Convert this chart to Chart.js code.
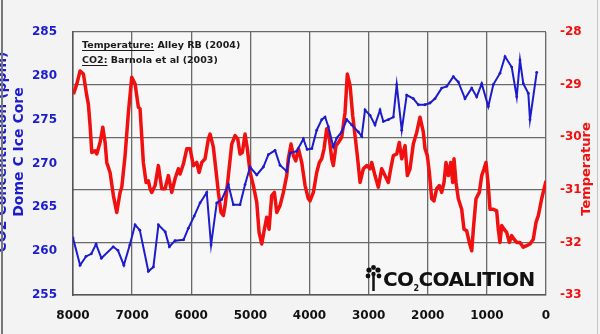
<!DOCTYPE html>
<html>
<head>
<meta charset="utf-8">
<script src="https://cdn.jsdelivr.net/npm/chart.js@4.4.1/dist/chart.umd.min.js"></script>
<style>
    html, body { margin: 0; padding: 0; background: #f3f3f3; }
    #wrap { width: 600px; height: 334px; }
</style>
</head>
<body>
<div id="wrap"><canvas id="chart" width="600" height="334"></canvas></div>
<script>
// CO2, Dome C ice core (ppm), years before present
const co2Years = [8000, 7880, 7780, 7690, 7610, 7520, 7320, 7240, 7140, 7040, 6950, 6870, 6725, 6640, 6555, 6440, 6370, 6275, 6130, 6050,
    5950, 5851, 5738, 5665, 5569, 5484, 5372, 5288, 5175, 5090, 5005, 4892, 4780, 4696, 4583, 4498, 4385, 4329, 4216, 4104,
    4040, 3960, 3878, 3793, 3737, 3681, 3597, 3540, 3455, 3370, 3286, 3174, 3117, 3061, 2976, 2892, 2807, 2751, 2667, 2582,
    2525, 2440, 2356, 2244, 2159, 2046, 1962, 1877, 1764, 1679, 1567, 1483, 1370, 1256, 1172, 1087, 976, 891, 778, 693,
    580, 495, 440, 384, 299, 271, 157];
const co2Values = [261.5, 258.4, 259.4, 259.7, 260.8, 259.2, 260.5, 260.1, 258.4, 260.7, 263.0, 262.4, 257.7, 258.2, 263.0, 262.2, 260.5, 261.2, 261.3, 262.6,
    264.0, 265.5, 266.7, 260.7, 265.5, 265.9, 267.6, 265.3, 265.3, 267.6, 269.6, 268.7, 269.6, 271.0, 271.5, 269.8, 269.1, 271.2, 271.4, 272.8,
    271.6, 271.7, 273.8, 275.0, 275.3, 274.2, 271.9, 272.9, 273.6, 275.0, 274.4, 273.6, 273.1, 276.1, 275.5, 274.4, 276.1, 274.8, 275.0, 275.3,
    279.0, 273.8, 277.8, 277.4, 276.7, 276.7, 276.9, 277.4, 278.6, 278.8, 279.9, 279.3, 277.4, 278.6, 277.6, 279.1, 276.5, 279.0, 280.3, 282.2,
    281.0, 277.6, 281.8, 279.1, 278.0, 275.0, 280.4];

// Temperature, Alley (2004)
const tempYears = [7993, 7936, 7880, 7824, 7767, 7740, 7711, 7682, 7627, 7598, 7542, 7496, 7457, 7429, 7373, 7317, 7260, 7204, 7175, 7119,
    7063, 7006, 6950, 6894, 6866, 6810, 6764, 6725, 6696, 6668, 6612, 6556, 6499, 6443, 6387, 6330, 6274, 6218, 6189, 6133,
    6076, 6020, 5964, 5907, 5868, 5822, 5766, 5710, 5682, 5626, 5597, 5541, 5496, 5457, 5428, 5372, 5315, 5259, 5214, 5175,
    5136, 5090, 5051, 5005, 4949, 4892, 4853, 4808, 4763, 4723, 4684, 4639, 4594, 4554, 4498, 4442, 4385, 4358, 4312, 4273,
    4233, 4188, 4131, 4075, 4019, 3991, 3935, 3878, 3833, 3793, 3754, 3709, 3664, 3624, 3597, 3551, 3512, 3455, 3399, 3360,
    3314, 3269, 3230, 3191, 3145, 3089, 3032, 2976, 2948, 2892, 2836, 2779, 2723, 2667, 2626, 2582, 2525, 2481, 2440, 2384,
    2345, 2300, 2244, 2187, 2131, 2075, 2046, 2007, 1973, 1933, 1894, 1849, 1804, 1764, 1725, 1691, 1652, 1612, 1578, 1556,
    1522, 1483, 1426, 1387, 1341, 1297, 1256, 1229, 1184, 1128, 1087, 1048, 1015, 976, 947, 891, 834, 807, 778, 749,
    710, 665, 620, 580, 541, 495, 440, 384, 326, 271, 215, 169, 130, 73, 0];
const tempValues = [-29.18, -28.99, -28.74, -28.80, -29.21, -29.37, -29.78, -30.29, -30.26, -30.32, -30.10, -29.81, -30.10, -30.48, -30.67, -31.11, -31.43, -31.05, -30.95, -30.35,
    -29.53, -28.86, -28.99, -29.43, -29.46, -30.48, -30.86, -30.83, -30.98, -31.05, -30.92, -30.54, -30.98, -30.98, -30.73, -31.05, -30.79, -30.60, -30.70, -30.51,
    -30.22, -30.22, -30.54, -30.48, -30.67, -30.48, -30.41, -30.03, -29.94, -30.19, -30.48, -31.05, -31.43, -31.49, -31.30, -30.73, -30.13, -29.97, -30.03, -30.32,
    -30.29, -29.94, -30.22, -30.67, -30.92, -31.24, -31.81, -32.03, -31.75, -31.52, -31.75, -31.11, -31.05, -31.43, -31.30, -31.05, -30.73, -30.41, -30.13, -30.35,
    -30.45, -30.22, -30.48, -30.92, -31.17, -31.21, -31.05, -30.67, -30.48, -30.41, -30.22, -29.84, -30.03, -30.41, -30.54, -30.16, -30.10, -30.00, -29.53, -28.80,
    -29.02, -29.59, -29.97, -30.35, -30.86, -30.60, -30.54, -30.60, -30.48, -30.73, -30.95, -30.60, -30.73, -30.86, -30.60, -30.35, -30.32, -30.10, -30.41, -30.16,
    -30.73, -30.60, -30.13, -29.91, -29.62, -29.90, -30.22, -30.35, -30.67, -31.17, -31.21, -30.98, -30.92, -31.05, -30.86, -30.48, -30.73, -30.48, -30.86, -30.41,
    -30.86, -31.17, -31.37, -31.75, -31.78, -32.00, -32.16, -31.75, -31.17, -31.05, -30.73, -30.60, -30.48, -30.92, -31.37, -31.37, -31.40, -31.75, -32.00, -31.68,
    -31.75, -31.81, -32.00, -31.87, -31.94, -32.00, -32.00, -32.09, -32.06, -32.03, -31.94, -31.62, -31.49, -31.17, -30.83];

const yearTicks = [8000, 7000, 6000, 5000, 4000, 3000, 2000, 1000, 0];
const co2Ticks = [255, 260, 265, 270, 275, 280, 285];
const tempTicks = [-33, -32, -31, -30, -29, -28];

const BLUE = '#1c1ccc';
const RED = '#f01010';
const FONT = 'DejaVu Sans';

const decorPlugin = {
    id: 'decor',
    beforeDraw(chart) {
        const { ctx, chartArea: a } = chart;
        ctx.save();
        ctx.fillStyle = '#f3f3f3';
        ctx.fillRect(0, 0, chart.width, chart.height);
        ctx.fillStyle = '#f7f7f7';
        ctx.fillRect(a.left, a.top, a.right - a.left, a.bottom - a.top);
        ctx.restore();
    },
    afterDraw(chart) {
        const ctx = chart.ctx;
        ctx.save();

        // axis titles
        ctx.textAlign = 'center';
        ctx.textBaseline = 'middle';
        ctx.save();
        ctx.translate(2, 152);
        ctx.rotate(-Math.PI / 2);
        ctx.fillStyle = BLUE;
        ctx.font = 'bold 14px "' + FONT + '"';
        ctx.fillText('CO2 Concentration (ppm)', 0, 0);
        ctx.fillText('Dome C Ice Core', 0, 17);
        ctx.restore();

        ctx.save();
        ctx.translate(587, 169);
        ctx.rotate(-Math.PI / 2);
        ctx.fillStyle = RED;
        ctx.font = 'bold 13px "' + FONT + '"';
        ctx.fillText('Temperature', 0, 0);
        ctx.restore();

        // frame edges of the picture
        ctx.fillStyle = '#777';
        ctx.fillRect(1, 0, 2, chart.height);
        ctx.fillStyle = '#c4c4c4';
        ctx.fillRect(597, 0, 1, chart.height);

        // sources
        ctx.textAlign = 'left';
        ctx.textBaseline = 'alphabetic';
        ctx.font = 'bold 9.5px "' + FONT + '"';
        ctx.fillStyle = '#1a1a1a';
        ctx.strokeStyle = '#1a1a1a';
        ctx.lineWidth = 1;
        const sources = [['Temperature:', ' Alley RB (2004)', 48], ['CO2:', ' Barnola et al (2003)', 63]];
        sources.forEach(([label, rest, y]) => {
            const w = ctx.measureText(label).width;
            ctx.fillText(label, 82, y);
            ctx.fillText(rest, 82 + w, y);
            ctx.beginPath();
            ctx.moveTo(82, y + 2.5);
            ctx.lineTo(82 + w, y + 2.5);
            ctx.stroke();
        });

        // logo
        ctx.fillStyle = '#111';
        ctx.strokeStyle = '#111';
        ctx.lineWidth = 2.5;
        ctx.beginPath();
        ctx.moveTo(373.5, 272);
        ctx.lineTo(373.5, 291);
        ctx.stroke();
        [[369, 270, 2.6], [378, 270, 2.6], [373.5, 267.5, 2.4], [368, 276, 2.4], [379, 276, 2.4], [373.5, 274, 2.2]].forEach(([cx, cy, r]) => {
            ctx.beginPath();
            ctx.arc(cx, cy, r, 0, Math.PI * 2);
            ctx.fill();
        });
        ctx.letterSpacing = '-0.6px';
        ctx.font = 'bold 20px "' + FONT + '"';
        ctx.fillText('CO', 383, 286);
        let x = 383 + ctx.measureText('CO').width;
        ctx.font = 'bold 8px "' + FONT + '"';
        ctx.fillText('2', x, 291);
        x += ctx.measureText('2').width;
        ctx.font = 'bold 20px "' + FONT + '"';
        ctx.fillText('COALITION', x, 286);

        ctx.restore();
    }
};

new Chart(document.getElementById('chart'), {
    type: 'line',
    data: {
        datasets: [
            {
                label: 'CO2',
                yAxisID: 'yCo2',
                data: co2Years.map((yr, i) => ({ x: yr, y: co2Values[i] })),
                borderColor: BLUE,
                backgroundColor: BLUE,
                borderWidth: 2,
                pointRadius: 1.4,
                pointBorderWidth: 0,
                tension: 0,
                order: 1
            },
            {
                label: 'Temperature',
                yAxisID: 'yTemp',
                data: tempYears.map((yr, i) => ({ x: yr, y: tempValues[i] })),
                borderColor: RED,
                backgroundColor: RED,
                borderWidth: 3.5,
                pointRadius: 0,
                tension: 0,
                borderJoinStyle: 'round',
                order: 2
            }
        ]
    },
    options: {
        responsive: false,
        animation: false,
        devicePixelRatio: 1,
        layout: { padding: { top: 32, left: 0, right: 0, bottom: 0 } },
        plugins: {
            legend: { display: false },
            tooltip: { enabled: false }
        },
        scales: {
            x: {
                type: 'linear',
                reverse: true,
                min: 0,
                max: 8000,
                afterBuildTicks: s => { s.ticks = yearTicks.map(v => ({ value: v })); },
                afterFit: s => { s.height = 39; },
                ticks: {
                    callback: v => String(v),
                    color: '#111',
                    font: { family: FONT, size: 12, weight: 'bold' },
                    padding: 14,
                    maxRotation: 0
                },
                grid: { color: '#6a6a6a', lineWidth: 1.3, drawTicks: false },
                border: { color: '#555', width: 1.5 }
            },
            yCo2: {
                position: 'left',
                min: 255,
                max: 285,
                afterBuildTicks: s => { s.ticks = co2Ticks.map(v => ({ value: v })); },
                afterFit: s => { s.width = 73; },
                ticks: {
                    color: BLUE,
                    font: { family: FONT, size: 12, weight: 'bold' },
                    padding: 16
                },
                grid: { display: false, drawTicks: false },
                border: { color: '#555', width: 1.5 }
            },
            yTemp: {
                position: 'right',
                min: -33,
                max: -28,
                afterBuildTicks: s => { s.ticks = tempTicks.map(v => ({ value: v })); },
                afterFit: s => { s.width = 54; },
                ticks: {
                    color: RED,
                    font: { family: FONT, size: 12, weight: 'bold' },
                    padding: 14
                },
                grid: { color: '#6a6a6a', lineWidth: 1.3, drawTicks: false },
                border: { color: '#c4c4c4', width: 1 }
            }
        }
    },
    plugins: [decorPlugin]
});
</script>
</body>
</html>
